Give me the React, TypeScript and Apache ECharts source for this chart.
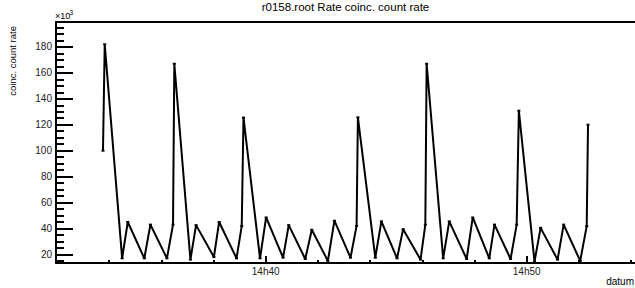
import React, { useEffect, useRef } from "react";
import * as echarts from "echarts";

// ---- data ----
const times: string[] = [
  "14:33:46", "14:33:50", "14:34:30", "14:34:43", "14:35:21", "14:35:35", "14:36:13", "14:36:27",
  "14:36:30", "14:37:07", "14:37:20", "14:38:01", "14:38:13", "14:38:53", "14:39:05", "14:39:09",
  "14:39:47", "14:40:01", "14:40:40", "14:40:53", "14:41:31", "14:41:46", "14:42:23", "14:42:38",
  "14:43:15", "14:43:29", "14:43:32", "14:44:12", "14:44:26", "14:45:02", "14:45:16", "14:45:56",
  "14:46:07", "14:46:10", "14:46:48", "14:47:02", "14:47:42", "14:47:56", "14:48:34", "14:48:46",
  "14:49:23", "14:49:37", "14:49:42", "14:50:18", "14:50:32", "14:51:11", "14:51:25", "14:52:03",
  "14:52:18", "14:52:21",
];
// coinc. count rate, in units of 10^3
const rates: number[] = [
  100, 182, 17, 45, 17, 43, 17, 43,
  167, 16, 42.6, 18, 45, 17, 42, 125.5,
  17, 48.5, 17.5, 42.6, 16.5, 39, 15, 46,
  17.5, 42, 125.7, 17.5, 45.5, 17, 39.5, 16,
  43, 167, 17, 45.5, 16.5, 48.5, 17, 43,
  16.5, 43, 130.8, 14.5, 40.5, 16, 43, 15,
  41.8, 120,
];
const xRange: string[] = ["14:31:58", "14:54:09"];
const xLabelTimes: string[] = ["14:40:00", "14:50:00"];
const xMinorTimes: string[] = [
  "14:32:00", "14:34:00", "14:36:00", "14:38:00", "14:42:00", "14:44:00",
  "14:46:00", "14:48:00", "14:52:00", "14:54:00",
];
const yRange: number[] = [13.4, 199.2];
const yMajor: number[] = [20, 40, 60, 80, 100, 120, 140, 160, 180];
const yMinor: number[] = [
  15, 25, 30, 35, 45, 50, 55, 65, 70, 75, 85, 90, 95, 105, 110, 115, 125, 130, 135,
  145, 150, 155, 165, 170, 175, 185, 190, 195,
];
const titleText = "r0158.root Rate coinc. count rate";
const yTitle = "coinc. count rate";
const xTitle = "datum";

const toSec = (t: string) => {
  const [h, m, s] = t.split(":").map(Number);
  return h * 3600 + m * 60 + s;
};
const fmt = (v: number) => {
  const h = Math.floor(v / 3600);
  const m = Math.floor((v % 3600) / 60);
  return `${h}h${String(m).padStart(2, "0")}`;
};

const FONT = "'Liberation Sans', Arial, Helvetica, sans-serif";

export default function App() {
  const ref = useRef<HTMLDivElement>(null);
  useEffect(() => {
    if (!ref.current) return;
    const chart = echarts.init(ref.current, undefined, { renderer: "svg" });
    const xMin = toSec(xRange[0]);
    const xMax = toSec(xRange[1]);
    const data = times.map((t, i) => [toSec(t), rates[i]]);
    const black = "#000";
    const baseX = {
      type: "value" as const,
      min: xMin,
      max: xMax,
      splitLine: { show: false },
    };
    const baseY = {
      type: "value" as const,
      min: yRange[0],
      max: yRange[1],
      splitLine: { show: false },
    };
    chart.setOption({
      animation: false,
      backgroundColor: "#fff",
      textStyle: { fontFamily: FONT },
      grid: { left: 56, right: 0, top: 22, bottom: 25, containLabel: false },
      xAxis: [
        {
          ...baseX,
          position: "bottom",
          axisLine: { show: true, lineStyle: { color: black, width: 2 } },
          axisTick: {
            show: true,
            inside: true,
            length: 7,
            lineStyle: { color: black, width: 2 },
            customValues: xLabelTimes.map(toSec),
          },
          axisLabel: {
            show: true,
            color: "#222",
            fontSize: 10,
            fontFamily: FONT,
            margin: 3,
            customValues: xLabelTimes.map(toSec),
            formatter: (v: number) => fmt(v),
          },
        },
        {
          ...baseX,
          position: "bottom",
          axisLine: { show: false },
          axisTick: {
            show: true,
            inside: true,
            length: 3,
            lineStyle: { color: black, width: 2 },
            customValues: xMinorTimes.map(toSec),
          },
          axisLabel: { show: false },
        },
        {
          ...baseX,
          position: "top",
          axisLine: { show: true, lineStyle: { color: black, width: 2 } },
          axisTick: { show: false },
          axisLabel: { show: false },
        },
      ],
      yAxis: [
        {
          ...baseY,
          position: "left",
          axisLine: { show: true, lineStyle: { color: black, width: 2 } },
          axisTick: {
            show: true,
            inside: true,
            length: 17,
            lineStyle: { color: black, width: 2 },
            customValues: yMajor,
          },
          axisLabel: {
            show: true,
            color: "#222",
            fontSize: 10,
            fontFamily: FONT,
            margin: 4,
            customValues: yMajor,
          },
        },
        {
          ...baseY,
          position: "left",
          axisLine: { show: false },
          axisTick: {
            show: true,
            inside: true,
            length: 8,
            lineStyle: { color: black, width: 2 },
            customValues: yMinor,
          },
          axisLabel: { show: false },
        },
      ],
      series: [
        {
          type: "line",
          xAxisIndex: 0,
          yAxisIndex: 0,
          data,
          symbol: "rect",
          symbolSize: [3, 2],
          showSymbol: true,
          itemStyle: { color: black },
          lineStyle: { color: black, width: 2 },
          clip: true,
        },
      ],
      graphic: [
        {
          type: "text",
          x: 345.5,
          y: 6.5,
          style: {
            text: titleText,
            fontSize: 11.5,
            fontFamily: FONT,
            fill: "#000",
            align: "center",
            verticalAlign: "middle",
          },
        },
        {
          type: "text",
          x: 12,
          y: 26,
          rotation: Math.PI / 2,
          style: {
            text: yTitle,
            fontSize: 9.5,
            fontFamily: FONT,
            fill: "#000",
            align: "right",
            verticalAlign: "middle",
          },
        },
        {
          type: "text",
          x: 55,
          y: 20.5,
          style: {
            text: "×10",
            fontSize: 9,
            fontFamily: FONT,
            fill: "#000",
            align: "left",
            verticalAlign: "bottom",
          },
        },
        {
          type: "text",
          x: 69.5,
          y: 15.5,
          style: {
            text: "3",
            fontSize: 6.5,
            fontFamily: FONT,
            fill: "#000",
            align: "left",
            verticalAlign: "bottom",
          },
        },
        {
          type: "text",
          x: 634,
          y: 286,
          style: {
            text: xTitle,
            fontSize: 10,
            fontFamily: FONT,
            fill: "#000",
            align: "right",
            verticalAlign: "bottom",
          },
        },
      ],
    });
    return () => chart.dispose();
  }, []);
  return (
    <div
      ref={ref}
      style={{ position: "fixed", left: 0, top: 0, width: 635, height: 288, background: "#fff" }}
    />
  );
}
